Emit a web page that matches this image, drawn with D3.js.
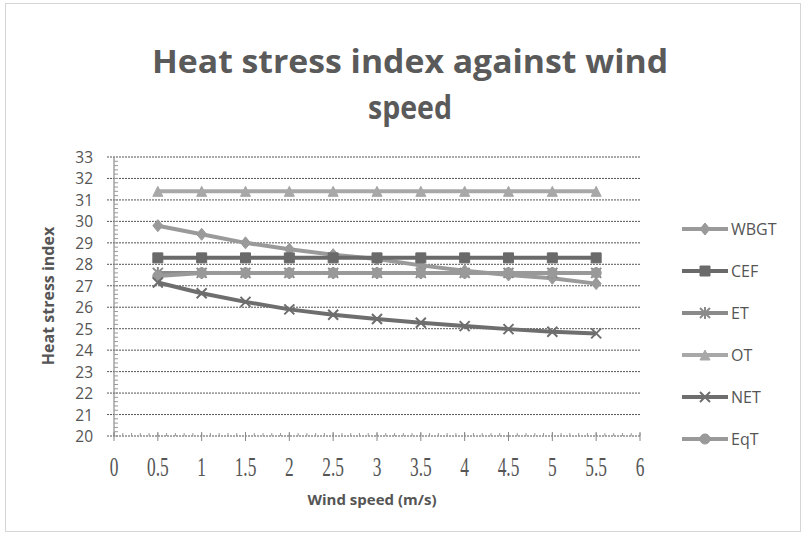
<!DOCTYPE html>
<html>
<head>
<meta charset="utf-8">
<script src="https://cdn.jsdelivr.net/npm/d3@7"></script>
<style>
  body { margin: 0; background: #fff; }
  svg text { fill: #555; }
</style>
</head>
<body>
<svg id="chart" width="803" height="535"></svg>
<script>
// values
var windSpeed = [0.5, 1, 1.5, 2, 2.5, 3, 3.5, 4, 4.5, 5, 5.5];
var wbgt = [29.8, 29.4, 29.0, 28.7, 28.45, 28.25, 27.95, 27.7, 27.5, 27.35, 27.1];
var cef  = [28.3, 28.3, 28.3, 28.3, 28.3, 28.3, 28.3, 28.3, 28.3, 28.3, 28.3];
var et   = [27.6, 27.6, 27.6, 27.6, 27.6, 27.6, 27.6, 27.6, 27.6, 27.6, 27.6];
var ot   = [31.4, 31.4, 31.4, 31.4, 31.4, 31.4, 31.4, 31.4, 31.4, 31.4, 31.4];
var net  = [27.15, 26.65, 26.25, 25.9, 25.65, 25.45, 25.28, 25.12, 24.98, 24.86, 24.78];
var eqt  = [27.45, 27.6, 27.6, 27.6, 27.6, 27.6, 27.6, 27.6, 27.6, 27.6, 27.6];

var seriesNames = ["WBGT", "CEF", "ET", "OT", "NET", "EqT"];
var seriesValues = [wbgt, cef, et, ot, net, eqt];
var seriesColors = ["#9a9a9a", "#6a6a6a", "#8a8a8a", "#a8a8a8", "#6e6e6e", "#999999"];
var seriesMarkers = ["diamond", "square", "asterisk", "triangle", "x", "circle"];

var xTicks = [0, 0.5, 1, 1.5, 2, 2.5, 3, 3.5, 4, 4.5, 5, 5.5, 6];
var yTicks = d3.range(20, 34);

var svg = d3.select("#chart");

var x = d3.scaleLinear().domain([0, 6]).range([114, 640]);
var y = d3.scaleLinear().domain([20, 33]).range([436, 157]);

// outer frame
svg.append("rect")
  .attr("x", 5.5).attr("y", 3.5)
  .attr("width", 795).attr("height", 528)
  .attr("fill", "none")
  .attr("stroke", "#aaa")
  .attr("stroke-dasharray", "1,1");

// title
svg.append("text")
  .attr("x", 410).attr("y", 73)
  .attr("text-anchor", "middle")
  .attr("textLength", 516)
  .attr("lengthAdjust", "spacingAndGlyphs")
  .style("font", "bold 33px 'Open Sans', sans-serif")
  .style("fill", "#5a5a5a")
  .text("Heat stress index against wind");
svg.append("text")
  .attr("x", 410).attr("y", 119)
  .attr("text-anchor", "middle")
  .attr("textLength", 84)
  .attr("lengthAdjust", "spacingAndGlyphs")
  .style("font", "bold 33px 'Open Sans', sans-serif")
  .style("fill", "#5a5a5a")
  .text("speed");

// horizontal gridlines
svg.append("g")
  .selectAll("line")
  .data(yTicks)
  .join("line")
    .attr("x1", 107).attr("x2", x(6))
    .attr("y1", function(d) { return y(d); })
    .attr("y2", function(d) { return y(d); })
    .attr("stroke", "#555")
    .attr("stroke-width", 1)
    .attr("stroke-dasharray", "2,1");

// y axis with minor ticks
var yAxisG = svg.append("g");
yAxisG.append("line")
  .attr("x1", x(0)).attr("x2", x(0))
  .attr("y1", y(33)).attr("y2", y(20))
  .attr("stroke", "#777");
yAxisG.selectAll("line.minor")
  .data(d3.range(20, 33, 0.2))
  .join("line")
    .attr("class", "minor")
    .attr("x1", x(0)).attr("x2", x(0) + 4)
    .attr("y1", function(d) { return y(d); })
    .attr("y2", function(d) { return y(d); })
    .attr("stroke", "#999");
yAxisG.selectAll("text")
  .data(yTicks)
  .join("text")
    .attr("x", 93)
    .attr("y", function(d) { return y(d) + 6; })
    .attr("text-anchor", "end")
    .style("font", "15.5px 'Open Sans', sans-serif")
    .text(function(d) { return d; });

// x axis
var xAxisG = svg.append("g");
xAxisG.selectAll("line.minor")
  .data(d3.range(0, 6.01, 0.1))
  .join("line")
    .attr("class", "minor")
    .attr("x1", function(d) { return x(d); })
    .attr("x2", function(d) { return x(d); })
    .attr("y1", y(20) - 3).attr("y2", y(20))
    .attr("stroke", "#999");
xAxisG.selectAll("line.major")
  .data(xTicks)
  .join("line")
    .attr("class", "major")
    .attr("x1", function(d) { return x(d); })
    .attr("x2", function(d) { return x(d); })
    .attr("y1", y(20) - 4).attr("y2", y(20) + 5)
    .attr("stroke", "#888");
xAxisG.selectAll("text")
  .data(xTicks)
  .join("text")
    .attr("transform", function(d) { return "translate(" + x(d) + ",476) scale(0.62,1)"; })
    .attr("text-anchor", "middle")
    .style("font", "28px 'Liberation Serif', serif")
    .text(function(d) { return d; });

// axis titles
svg.append("text")
  .attr("x", 372).attr("y", 505)
  .attr("text-anchor", "middle")
  .style("font", "bold 15px 'Open Sans', sans-serif")
  .text("Wind speed (m/s)");
svg.append("text")
  .attr("transform", "translate(54,296) rotate(-90)")
  .attr("text-anchor", "middle")
  .style("font", "bold 16px 'Open Sans', sans-serif")
  .text("Heat stress index");

// markers
function markerPath(kind, s) {
  var h = s / 2;
  if (kind === "diamond") return "M0," + (-h - 1) + "L" + h + ",0L0," + (h + 1) + "L" + (-h) + ",0Z";
  if (kind === "square") return "M" + (-h) + "," + (-h) + "h" + s + "v" + s + "h" + (-s) + "Z";
  if (kind === "triangle") return "M0," + (-h) + "L" + h + "," + h + "L" + (-h) + "," + h + "Z";
  if (kind === "circle") return d3.symbol().type(d3.symbolCircle).size(s * s * 0.8)();
  if (kind === "x") return "M" + (-h) + "," + (-h) + "L" + h + "," + h + "M" + h + "," + (-h) + "L" + (-h) + "," + h;
  // asterisk
  return "M" + (-h) + "," + (-h) + "L" + h + "," + h + "M" + h + "," + (-h) + "L" + (-h) + "," + h +
         "M0," + (-h - 1) + "L0," + (h + 1);
}
function isStroked(kind) { return kind === "x" || kind === "asterisk"; }

var line = d3.line()
  .x(function(d) { return x(d[0]); })
  .y(function(d) { return y(d[1]); });

var drawOrder = [3, 0, 1, 2, 5, 4];
drawOrder.forEach(function(i) {
  var pts = windSpeed.map(function(w, j) { return [w, seriesValues[i][j]]; });
  var g = svg.append("g");
  g.append("path")
    .attr("d", line(pts))
    .attr("fill", "none")
    .attr("stroke", seriesColors[i])
    .attr("stroke-width", 4);
  g.selectAll("path.m")
    .data(pts)
    .join("path")
      .attr("class", "m")
      .attr("transform", function(d) { return "translate(" + x(d[0]) + "," + y(d[1]) + ")"; })
      .attr("d", markerPath(seriesMarkers[i], 10))
      .attr("fill", isStroked(seriesMarkers[i]) ? "none" : seriesColors[i])
      .attr("stroke", seriesColors[i])
      .attr("stroke-width", isStroked(seriesMarkers[i]) ? 2 : 1);
});

// legend
var legend = svg.append("g");
seriesNames.forEach(function(name, i) {
  var ly = 229 + i * 42;
  legend.append("line")
    .attr("x1", 682).attr("x2", 728)
    .attr("y1", ly).attr("y2", ly)
    .attr("stroke", seriesColors[i])
    .attr("stroke-width", 4);
  legend.append("path")
    .attr("transform", "translate(705," + ly + ")")
    .attr("d", markerPath(seriesMarkers[i], 10))
    .attr("fill", isStroked(seriesMarkers[i]) ? "none" : seriesColors[i])
    .attr("stroke", seriesColors[i])
    .attr("stroke-width", isStroked(seriesMarkers[i]) ? 2 : 1);
  legend.append("text")
    .attr("x", 731).attr("y", ly + 6)
    .style("font", "16px 'Open Sans', sans-serif")
    .text(name);
});
</script>
</body>
</html>
